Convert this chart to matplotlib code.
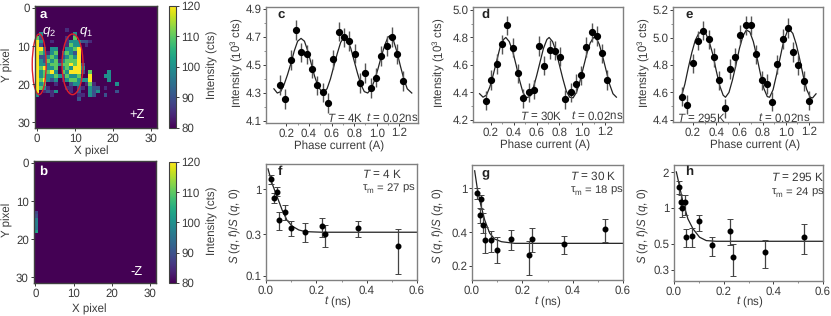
import matplotlib
matplotlib.use("Agg")
import matplotlib.pyplot as plt
from matplotlib.patches import Ellipse
import numpy as np

W, H = 831, 316
TXT = "#3a3a3a"
FRAME = "#808080"

plt.rcParams['font.family'] = ['Liberation Sans', 'DejaVu Sans']
plt.rcParams['mathtext.fontset'] = 'custom'
plt.rcParams['mathtext.rm'] = 'Liberation Sans'
plt.rcParams['mathtext.it'] = 'Liberation Sans:italic'
plt.rcParams['mathtext.bf'] = 'Liberation Sans:bold'
plt.rcParams['font.size'] = 8.3
plt.rcParams['text.hinting'] = 'none'

# heat map a: one string per row, from row 6, one character per column
LEVELS = {'.': 80, 'P': 85, 'B': 90, 'T': 100, 'G': 110, 'Y': 120}
HEAT_A_FIRST_ROW = 6
HEAT_A_ROWS = [
    "........P.............",
    ".T........T...........",
    "GB......P.G...........",
    "YT..P...PTTTBBP.......",
    "YB......PGTT.P........",
    "YYT.TT..TTGY..........",
    "YGTPTG.TGTBY..........",
    "YBBTGT.BTGTY..........",
    "YTBGTGPTGGGY..........",
    "YTTTGGTGGYGYB.........",
    "YGYTTG.TGTYYT.........",
    "YTGGYT.GTYYYB.G....T..",
    "YTGTTGTBGTTG..Y...TT..",
    "YGYTBT.PTGGTTTY....T..",
    "YTG..P...BTT.PGP.....T",
    "YGTP....PP.BP.TBB.P...",
    "Y.PBPT...P.B..TBT....B",
    "T...P......PP.TB..B...",
    "...........B..........",
]
# heat map b: rows and values of the only lit cells (column 0)
HEAT_B_ROWS = [13, 14, 15, 16, 17, 18]
HEAT_B_VALS = [88, 90, 97, 97, 96, 103]

# phase current scans
C_X = [.144, .191, .238, .286, .333, .380, .427, .474, .522, .569, .616, .663, .710, .758, .805, .852, .899, .946, .993, 1.04, 1.088, 1.135, 1.182, 1.23]
C_Y = [4.358, 4.258, 4.535, 4.75, 4.59, 4.575, 4.475, 4.355, 4.305, 4.227, 4.54, 4.738, 4.697, 4.673, 4.582, 4.372, 4.444, 4.334, 4.41, 4.563, 4.637, 4.70, 4.58, 4.384]
C_FIT_X = [.09, .12, .15, .18, .21, .24, .27, .30, .33, .36, .39, .42, .45, .48, .52, .56, .59, .62, .65, .68, .71, .74, .77, .80, .83, .86, .89, .92, .95, .98, 1.01, 1.04, 1.07, 1.10, 1.12, 1.15, 1.18, 1.21, 1.24, 1.27, 1.31]
C_FIT_Y = [4.33, 4.30, 4.31, 4.36, 4.43, 4.51, 4.60, 4.67, 4.69, 4.67, 4.60, 4.51, 4.42, 4.35, 4.30, 4.33, 4.40, 4.49, 4.58, 4.66, 4.70, 4.68, 4.62, 4.53, 4.44, 4.36, 4.31, 4.30, 4.33, 4.39, 4.47, 4.56, 4.64, 4.70, 4.71, 4.67, 4.59, 4.49, 4.40, 4.33, 4.30]

D_X = [.156, .203, .25, .296, .343, .39, .437, .484, .53, .577, .62, .668, .715, .761, .808, .852, .899, .946, .992, 1.036, 1.083, 1.13, 1.177, 1.22]
D_Y = [4.34, 4.49, 4.607, 4.75, 4.888, 4.726, 4.54, 4.358, 4.40, 4.418, 4.738, 4.593, 4.71, 4.704, 4.66, 4.35, 4.40, 4.462, 4.525, 4.73, 4.838, 4.81, 4.685, 4.49]
D_FIT_X = [.10, .13, .16, .19, .22, .25, .28, .31, .33, .36, .39, .42, .45, .48, .51, .54, .57, .60, .63, .66, .69, .71, .74, .77, .80, .83, .86, .89, .92, .95, .98, 1.01, 1.04, 1.07, 1.10, 1.12, 1.15, 1.18, 1.21, 1.24, 1.27, 1.30]
D_FIT_Y = [4.39, 4.365, 4.38, 4.44, 4.53, 4.63, 4.73, 4.785, 4.80, 4.77, 4.70, 4.60, 4.49, 4.40, 4.36, 4.37, 4.43, 4.52, 4.62, 4.72, 4.785, 4.80, 4.77, 4.70, 4.60, 4.50, 4.41, 4.365, 4.36, 4.40, 4.48, 4.58, 4.68, 4.76, 4.80, 4.80, 4.75, 4.66, 4.56, 4.46, 4.39, 4.365]

E_X = [.105, .151, .197, .243, .289, .335, .381, .427, .473, .516, .562, .608, .654, .70, .746, .792, .835, .881, .927, .973, 1.019, 1.062, 1.108, 1.154, 1.20]
E_Y = [4.57, 4.512, 4.812, 4.977, 5.05, 4.987, 4.856, 4.688, 4.485, 4.771, 4.856, 5.02, 5.088, 5.088, 4.878, 4.688, 4.662, 4.533, 4.805, 4.989, 5.07, 4.895, 4.80, 4.684, 4.54]
E_FIT_X = [.10, .13, .16, .19, .22, .25, .28, .31, .34, .37, .40, .43, .46, .48, .51, .54, .57, .60, .63, .66, .69, .72, .75, .78, .81, .84, .86, .89, .92, .95, .98, 1.01, 1.03, 1.06, 1.09, 1.12, 1.15, 1.18, 1.21, 1.23, 1.26]
E_FIT_Y = [4.57, 4.66, 4.78, 4.89, 4.98, 5.03, 5.045, 5.03, 4.97, 4.88, 4.76, 4.65, 4.58, 4.565, 4.60, 4.69, 4.80, 4.92, 5.01, 5.055, 5.04, 4.97, 4.86, 4.74, 4.63, 4.57, 4.565, 4.62, 4.73, 4.85, 4.97, 5.04, 5.06, 5.03, 4.95, 4.84, 4.72, 4.62, 4.565, 4.56, 4.59]

SCAN_ERR = 0.07

# decay curves
F_T = [.02, .033, .044, .052, .0755, .099, .156, .224, .236, .364, .525]
F_Y = [1.306, .801, .94, .438, .551, .36, .323, .373, .304, .354, .223]
F_HI = [1.465, .899, 1.055, .542, .659, .43, .404, .462, .386, .43, .348]
F_LO = [1.143, .689, .845, .338, .442, .288, .248, .283, .217, .278, .104]
F_FIT_T = [.008, .024, .044, .064, .083, .103, .13, .156, .2225, .6]
F_FIT_Y = [1.72, 1.17, .822, .576, .44, .376, .338, .323, .318, .318]

G_T = [.021, .035, .033, .045, .053, .076, .101, .156, .225, .238, .366, .527]
G_Y = [.907, .795, .57, .47, .341, .341, .275, .348, .249, .351, .314, .429]
G_HI = [1.014, .87, .66, .594, .45, .411, .366, .42, .334, .441, .371, .528]
G_LO = [.795, .65, .483, .392, .258, .264, .213, .277, .165, .264, .257, .33]
G_FIT_T = [.0106, .021, .035, .0505, .0705, .09, .117, .17, .6]
G_FIT_Y = [1.444, 1.0, .707, .517, .392, .348, .329, .318, .318]

H_T = [.019, .03, .031, .043, .05, .074, .099, .154, .224, .236, .366, .523]
H_Y = [1.508, 1.125, 1.0, 1.125, .567, .582, .77, .485, .646, .386, .425, .574]
H_HI = [1.685, 1.298, 1.162, 1.281, .659, .676, .878, .567, .801, .498, .538, .736]
H_LO = [1.323, 1.0, .838, .866, .466, .466, .646, .396, .488, .268, .309, .406]
H_FIT_T = [.0094, .02, .036, .056, .0765, .103, .13, .17, .6]
H_FIT_Y = [2.02, 1.61, 1.125, .81, .667, .567, .531, .524, .524]


def add_box(left, top, right, bottom):
    return fig.add_axes([left / W, 1 - bottom / H, (right - left) / W, (bottom - top) / H])


def put(px, py, s, **kw):
    kw.setdefault('color', TXT)
    kw.setdefault('ha', 'center')
    kw.setdefault('va', 'center')
    fig.text(px / W, 1 - py / H, s, **kw)


def style(ax, color=FRAME):
    for sp in ax.spines.values():
        sp.set_color(color)
        sp.set_linewidth(1.0)
    ax.tick_params(which='major', length=2.2, width=0.7, color=TXT, labelcolor=TXT, pad=1.2)
    ax.tick_params(which='minor', length=1.5, width=0.6, color=FRAME)


def heat_panel(box, grid, cbar_box):
    ax = add_box(*box)
    im = ax.imshow(grid, cmap='viridis', vmin=80, vmax=120, aspect='auto', interpolation='nearest')
    ax.set_xticks([0, 10, 20, 30])
    ax.set_yticks([0, 10, 20, 30])
    style(ax, '#404040')
    cax = add_box(*cbar_box)
    cb = fig.colorbar(im, cax=cax, ticks=[80, 90, 100, 110, 120])
    cb.outline.set_edgecolor('#404040')
    cb.outline.set_linewidth(0.8)
    cax.tick_params(length=2.2, width=0.7, color=TXT, labelcolor=TXT, pad=1.5)
    return ax


def scan_panel(box, x, y, fit_x, fit_y, xlim, ylim, yticks):
    ax = add_box(*box)
    ax.errorbar(x, y, yerr=SCAN_ERR, fmt='o', ms=4.2, color='black', ecolor='#555555', elinewidth=1.0, zorder=3)
    ax.plot(fit_x, fit_y, color='#222222', lw=0.9, zorder=2)
    ax.set_xlim(*xlim)
    ax.set_ylim(*ylim)
    ax.set_xticks([0.2, 0.4, 0.6, 0.8, 1.0, 1.2])
    ax.set_yticks(yticks)
    ax.set_yticklabels([f"{v:.1f}" for v in yticks])
    ax.set_yticks((np.array(yticks[:-1]) + np.array(yticks[1:])) / 2, minor=True)
    ax.set_xticks([0.3, 0.5, 0.7, 0.9, 1.1], minor=True)
    style(ax)
    return ax


def decay_panel(box, t, y, hi, lo, fit_t, fit_y, ylim, yticks, ylabels):
    ax = add_box(*box)
    y = np.array(y)
    err = [y - np.array(lo), np.array(hi) - y]
    ax.plot(fit_t, fit_y, color='#222222', lw=0.9, zorder=2)
    ax.errorbar(t, y, yerr=err, fmt='o', ms=3.3, color='black', ecolor='#444444', elinewidth=0.9, capsize=2, capthick=0.7, zorder=3)
    ax.set_yscale('log')
    ax.set_xlim(0, 0.6)
    ax.set_ylim(*ylim)
    ax.set_xticks([0.0, 0.2, 0.4, 0.6])
    ax.set_xticks([0.1, 0.3, 0.5], minor=True)
    ax.set_yticks(yticks)
    ax.set_yticklabels(ylabels)
    ax.set_yticks([], minor=True)
    style(ax)
    return ax


fig = plt.figure(figsize=(W / 100, H / 100), dpi=100, facecolor='white')

grid_a = np.full((32, 32), 80.0)
for i, row in enumerate(HEAT_A_ROWS):
    for j, ch in enumerate(row):
        grid_a[HEAT_A_FIRST_ROW + i, j] = LEVELS[ch]
grid_b = np.full((32, 32), 80.0)
for r, v in zip(HEAT_B_ROWS, HEAT_B_VALS):
    grid_b[r, 0] = v

ax_a = heat_panel((35, 6, 157, 128), grid_a, (169, 6, 176, 128))
ax_b = heat_panel((33.5, 161, 156, 283), grid_b, (169, 162, 176, 283))

# red rings round q2 and q1
for cx, w in [(0.6, 3.65), (9.35, 5.5)]:
    ax_a.add_patch(Ellipse((cx, 14.8), w, 15.9, fill=False, ec='#e0202a', lw=1.0, clip_on=False))

scan_panel((266, 7, 418, 123), C_X, C_Y, C_FIT_X, C_FIT_Y, (0.02, 1.365), (4.086, 4.914), [4.1, 4.3, 4.5, 4.7, 4.9])
scan_panel((473, 7, 623, 122), D_X, D_Y, D_FIT_X, D_FIT_Y, (0.042, 1.358), (4.184, 5.022), [4.2, 4.4, 4.6, 4.8, 5.0])
scan_panel((673, 7, 823, 122), E_X, E_Y, E_FIT_X, E_FIT_Y, (0.028, 1.32), (4.385, 5.222), [4.4, 4.6, 4.8, 5.0, 5.2])

decay_panel((266, 164, 417, 280), F_T, F_Y, F_HI, F_LO, F_FIT_T, F_FIT_Y, (0.089, 1.96), [0.1, 0.3, 1], ['0.1', '0.3', '1'])
decay_panel((472, 165, 623, 280), G_T, G_Y, G_HI, G_LO, G_FIT_T, G_FIT_Y, (0.148, 1.63), [0.2, 0.4, 1], ['0.2', '0.4', '1'])
decay_panel((674, 165, 823, 281), H_T, H_Y, H_HI, H_LO, H_FIT_T, H_FIT_Y, (0.242, 2.31), [0.3, 0.5, 1, 2], ['0.3', '0.5', '1', '2'])

# axis titles, placed by hand like the figure
put(91, 151, "X pixel")
put(89, 309, "X pixel")
put(7, 65, "Y pixel", rotation=90)
put(7, 220, "Y pixel", rotation=90)
put(212, 65, "Intensity (cts)", rotation=90)
put(212, 221, "Intensity (cts)", rotation=90)
for px in [237, 439, 644]:
    put(px, 63, "Intensity (10$^3$ cts)", rotation=90)
for px, py in [(339, 146), (545, 145), (755, 145)]:
    put(px, py, "Phase current (A)")
S_LABEL = r"$\mathit{S}$ ($\mathit{q}$, $\mathit{t}$)/$\mathit{S}$ ($\mathit{q}$, 0)"
for px in [235, 438, 643]:
    put(px, 226, S_LABEL, rotation=90)
for px in [338, 548, 750]:
    put(px, 302, r"$\mathit{t}$ (ns)")

# panel letters and notes
put(43, 15, "a", color='white', weight='bold', fontsize=9.5)
put(43, 172, "b", color='white', weight='bold', fontsize=9.5)
put(137, 115, "+Z", color='white', fontsize=9.3)
put(136, 272, "-Z", color='white', fontsize=9.3)
put(49, 32, r"$\mathit{q}_{2}$", color='white', fontsize=9.5)
put(86, 32, r"$\mathit{q}_{1}$", color='white', fontsize=9.5)
for px, py, s in [(281, 15, "c"), (486, 15, "d"), (689, 15, "e"), (280, 172, "f"), (486, 173, "g"), (689, 172, "h")]:
    put(px, py, s, weight='bold', color='#222222', fontsize=9.5)

for px, py, s in [(327, 118, r"$\mathit{T}$ = 4K"), (366, 118, r"$\mathit{t}$ = 0.02ns"),
                  (520, 116, r"$\mathit{T}$ = 30K"), (571, 116, r"$\mathit{t}$ = 0.02ns"),
                  (677, 118, r"$\mathit{T}$ = 295K"), (758, 118, r"$\mathit{t}$ = 0.02ns")]:
    put(px, py, s, ha='left')

for px, py, s in [(362, 174, r"$\mathit{T}$ = 4 K"), (570, 176, r"$\mathit{T}$ = 30 K"), (771, 177, r"$\mathit{T}$ = 295 K")]:
    put(px, py, s, ha='left', fontsize=8.5)
for px, py, s in [(362, 188, "τ$_{\\mathrm{m}}$ = 27 ps"), (570, 190, "τ$_{\\mathrm{m}}$ = 18 ps"), (771, 192, "τ$_{\\mathrm{m}}$ = 24 ps")]:
    put(px, py, s, ha='left', fontsize=8.2)

fig.savefig("out.png", dpi=100)
